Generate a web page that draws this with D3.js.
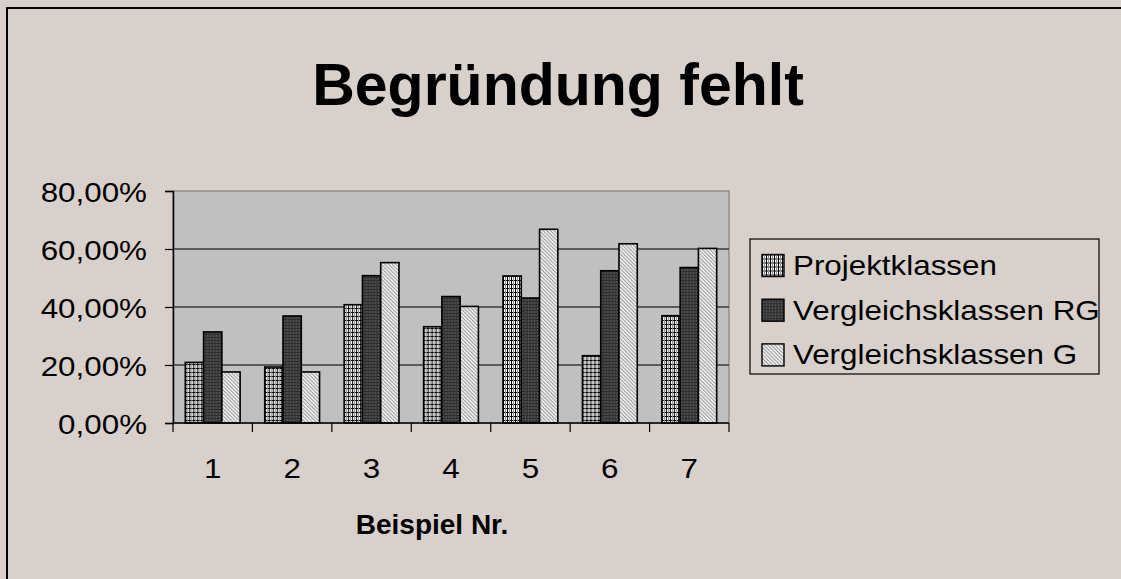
<!DOCTYPE html>
<html>
<head>
<meta charset="utf-8">
<script src="https://cdn.jsdelivr.net/npm/d3@7"></script>
<style>
  html, body { margin: 0; padding: 0; background: #d8d0ca; overflow: hidden; }
  svg { display: block; }
  text { font-family: "Liberation Sans", Arial, sans-serif; fill: #000; }
</style>
</head>
<body>
<svg id="chart" width="1121" height="579"></svg>
<script>
// Share of answers without justification, per example and class group
const categories = ["1", "2", "3", "4", "5", "6", "7"];
const seriesNames = ["Projektklassen", "Vergleichsklassen RG", "Vergleichsklassen G"];
const projektklassen      = [20.9, 19.3, 40.8, 33.2, 50.7, 23.2, 37.0];
const vergleichsklassenRG = [31.4, 36.9, 50.8, 43.6, 43.1, 52.5, 53.6];
const vergleichsklassenG  = [17.6, 17.6, 55.3, 40.2, 66.8, 61.8, 60.2];
const yTickValues = [0, 20, 40, 60, 80];

const seriesValues = [projektklassen, vergleichsklassenRG, vergleichsklassenG];
const patternIds = ["pat-proj", "pat-rg", "pat-g"];

const W = 1121, H = 579;
const plot = { left: 173, right: 729, top: 191, bottom: 423 };
const labelSize = 28.5;   // regular labels, drawn slightly widened
const widen = 1.1;

const svg = d3.select("#chart");

// Fill patterns for the three series
const defs = svg.append("defs");

const p1 = defs.append("pattern").attr("id", "pat-proj")
  .attr("patternUnits", "userSpaceOnUse").attr("width", 4).attr("height", 4);
p1.append("rect").attr("width", 4).attr("height", 4).attr("fill", "#ffffff");
p1.append("rect").attr("x", 0).attr("y", 0).attr("width", 1).attr("height", 4).attr("fill", "#000");
p1.append("rect").attr("x", 0).attr("y", 0).attr("width", 4).attr("height", 1).attr("fill", "#000");
p1.append("rect").attr("x", 2).attr("y", 0).attr("width", 1).attr("height", 4).attr("fill", "#8c8c8c");

const p2 = defs.append("pattern").attr("id", "pat-rg")
  .attr("patternUnits", "userSpaceOnUse").attr("width", 3).attr("height", 3);
p2.append("rect").attr("width", 3).attr("height", 3).attr("fill", "#3a3a3a");
p2.append("rect").attr("x", 1).attr("y", 0).attr("width", 1).attr("height", 3).attr("fill", "#555555");
p2.append("rect").attr("x", 0).attr("y", 1).attr("width", 3).attr("height", 1).attr("fill", "#2e2e2e");

const p3 = defs.append("pattern").attr("id", "pat-g")
  .attr("patternUnits", "userSpaceOnUse").attr("width", 2.6).attr("height", 2.6)
  .attr("patternTransform", "rotate(-45)");
p3.append("rect").attr("width", 2.6).attr("height", 2.6).attr("fill", "#f0f0f0");
p3.append("rect").attr("x", 0).attr("y", 0).attr("width", 1).attr("height", 2.6).attr("fill", "#9a9a9a");

// Chart background and frame (only the left and top edges fall inside the view)
svg.append("rect").attr("x", 0).attr("y", 0).attr("width", W).attr("height", H).attr("fill", "#d8d0ca");
svg.append("path").attr("d", `M7,${H} V8 H${W}`)
  .attr("fill", "none").attr("stroke", "#000").attr("stroke-width", 2);

// Title
svg.append("text").attr("x", 558).attr("y", 105).attr("text-anchor", "middle")
  .attr("font-size", 59).attr("font-weight", "bold").text("Begründung fehlt");

// Scales
const y = d3.scaleLinear().domain([0, 80]).range([plot.bottom, plot.top]);
const x0 = d3.scaleBand().domain(categories).range([plot.left, plot.right])
  .paddingInner(0.31).paddingOuter(0.155);
const x1 = d3.scaleBand().domain(d3.range(seriesNames.length)).range([0, x0.bandwidth()]);

// Plot area
svg.append("rect").attr("x", plot.left).attr("y", plot.top)
  .attr("width", plot.right - plot.left).attr("height", plot.bottom - plot.top)
  .attr("fill", "#c0c0c0").attr("stroke", "#808080").attr("stroke-width", 1.2);

// Gridlines
svg.append("g").selectAll("line").data(yTickValues.filter(v => v > 0 && v < 80)).join("line")
  .attr("x1", plot.left).attr("x2", plot.right)
  .attr("y1", d => y(d)).attr("y2", d => y(d))
  .attr("stroke", "#3a3a3a").attr("stroke-width", 1.4);

// Bars
const groups = svg.append("g").selectAll("g").data(categories).join("g")
  .attr("transform", d => `translate(${x0(d)},0)`);
groups.selectAll("rect")
  .data((c, i) => seriesValues.map((vals, s) => ({ s, v: vals[i] })))
  .join("rect")
  .attr("x", d => x1(d.s))
  .attr("y", d => y(d.v))
  .attr("width", x1.bandwidth())
  .attr("height", d => y(0) - y(d.v))
  .attr("fill", d => `url(#${patternIds[d.s]})`)
  .attr("stroke", "#000").attr("stroke-width", 1.6);

// Y axis
const fmt = v => v.toFixed(2).replace(".", ",") + "%";
const yAxis = svg.append("g").attr("transform", `translate(${plot.left},0)`)
  .call(d3.axisLeft(y).tickValues(yTickValues).tickSize(8).tickPadding(18).tickFormat(fmt));
yAxis.select(".domain").attr("stroke", "#000").attr("stroke-width", 1.5);
yAxis.selectAll(".tick line").attr("stroke", "#000").attr("stroke-width", 1.2);
yAxis.selectAll(".tick text").attr("font-size", labelSize).attr("font-family", null)
  .attr("dy", "0.36em").classed("wide", true);

// X axis with ticks between the categories
svg.append("line").attr("x1", plot.left).attr("x2", plot.right)
  .attr("y1", plot.bottom).attr("y2", plot.bottom).attr("stroke", "#000").attr("stroke-width", 1.5);
const boundaries = categories.map(c => x0(c) - x0.step() * x0.paddingInner() / 2)
  .concat([plot.right]);
svg.append("g").selectAll("line").data(boundaries).join("line")
  .attr("x1", d => d).attr("x2", d => d)
  .attr("y1", plot.bottom).attr("y2", plot.bottom + 9)
  .attr("stroke", "#000").attr("stroke-width", 1.2);
svg.append("g").selectAll("text").data(categories).join("text")
  .attr("x", d => x0(d) + x0.bandwidth() / 2).attr("y", 478)
  .attr("text-anchor", "middle").attr("font-size", labelSize).classed("wide", true).text(d => d);

// Axis title
svg.append("text").attr("x", 432).attr("y", 534).attr("text-anchor", "middle")
  .attr("font-size", 28).attr("font-weight", "bold").text("Beispiel Nr.");

// Legend
const legend = svg.append("g");
legend.append("rect").attr("x", 750).attr("y", 239).attr("width", 349).attr("height", 135)
  .attr("fill", "#d8d0ca").attr("stroke", "#000").attr("stroke-width", 1.2);
const rows = legend.selectAll("g").data(seriesNames).join("g")
  .attr("transform", (d, i) => `translate(762,${254.5 + i * 44.7})`);
rows.append("rect").attr("width", 22).attr("height", 22)
  .attr("fill", (d, i) => `url(#${patternIds[i]})`)
  .attr("stroke", "#000").attr("stroke-width", 1.4);
rows.append("text").attr("x", 31).attr("y", 20.5).attr("font-size", labelSize)
  .classed("wide", true).text(d => d);

// Regular labels are set a little wider than the font's natural advance
svg.selectAll("text.wide").each(function () {
  const len = this.getComputedTextLength();
  d3.select(this).attr("textLength", len * widen).attr("lengthAdjust", "spacingAndGlyphs");
});
</script>
</body>
</html>
